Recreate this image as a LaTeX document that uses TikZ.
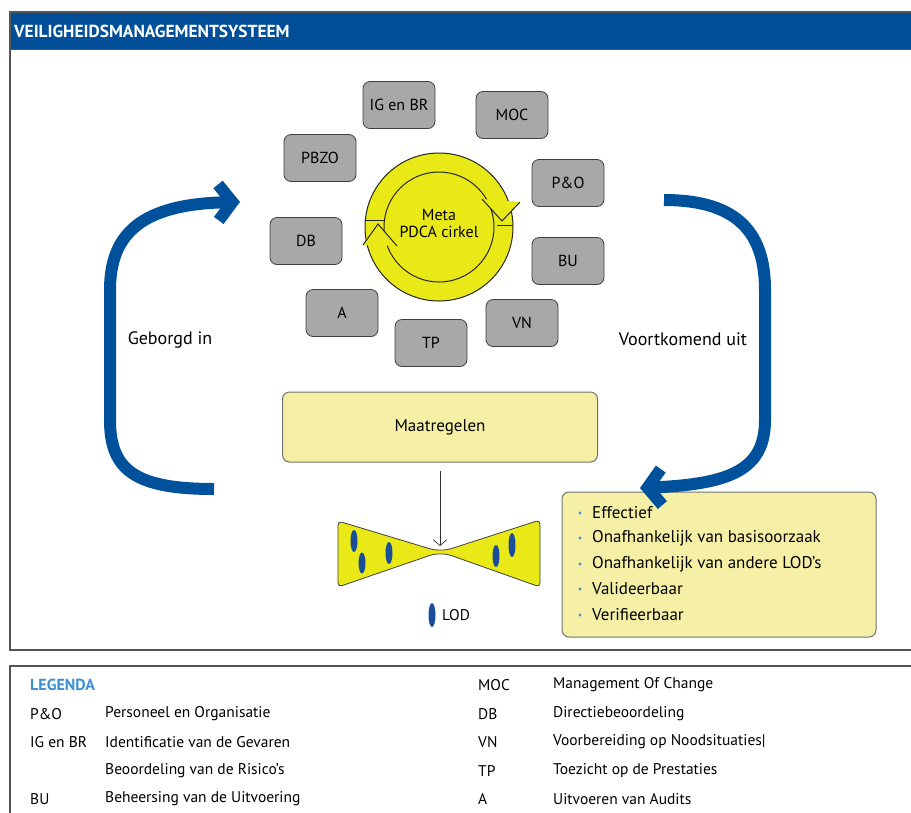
\documentclass[tikz,border=0pt]{standalone}
\usepackage{fontspec}
\setmainfont{PT Sans}
\usetikzlibrary{arrows.meta}
\definecolor{hdrblue}{HTML}{004F98}
\definecolor{arrblue}{HTML}{00519B}
\definecolor{boxgray}{HTML}{A8A8A8}
\definecolor{pdcay}{HTML}{E9E918}
\definecolor{paley}{HTML}{F5F0A5}
\definecolor{legblue}{HTML}{3F8FD2}
\definecolor{lodblue}{HTML}{1A4E9A}
\definecolor{frame}{HTML}{555555}
\tikzset{
  gbox/.style={draw=black!75, fill=boxgray, rounded corners=7pt, minimum width=72pt, minimum height=47pt, line width=0.8pt, font=\fontsize{16}{18}\selectfont, text=black},
  ybox/.style={draw=black!55, fill=paley, rounded corners=7pt, line width=1pt},
  bigarrow/.style={draw=arrblue, line width=12pt, -{Straight Barb[length=14pt, width=36pt]}},
  lbl/.style={font=\fontsize{18}{20}\selectfont, text=black},
  crit/.style={anchor=west, font=\fontsize{17}{19}\selectfont, text=black, inner sep=0pt},
  leg/.style={anchor=west, font=\fontsize{15.5}{17}\selectfont, text=black, inner sep=0pt},
  ring/.style={black!85, line width=1pt},
  lod/.style={fill=lodblue},
}
\begin{document}
\begin{tikzpicture}[x=1pt, y=-1pt]
\useasboundingbox (0,0) rectangle (911,812);
% frames
\fill[white] (0,0) rectangle (911,812);
\fill[hdrblue] (10,12) rectangle (915,49);
\draw[frame, line width=1.2pt] (915,12) -- (10,12) -- (10,650) -- (915,650);
\draw[frame, line width=1pt] (10,49) -- (915,49);
\node[anchor=west, text=white, font=\bfseries\fontsize{17.4}{19}\selectfont, inner sep=0pt] (title) at (14,31) {VEILIGHEIDSMANAGEMENTSYSTEEM};
\draw[frame, line width=1.2pt] (915,666) -- (10,666) -- (10,815);

% PDCA circle
\node[circle, draw=black!85, fill=pdcay, line width=1pt, minimum size=148pt, inner sep=0pt] (pdca) at (439,227) {};
\draw[ring] (pdca.center) circle (55);
\fill[pdcay] (482,199) -- (520,202) -- (502,221) -- cycle;
\draw[ring] (482,199) -- (502,221) -- (520,202);
\draw[ring] (497,225) -- (513,225);
\fill[pdcay] (363,245) -- (378,224) -- (397,246) -- cycle;
\draw[ring] (363,245) -- (378,224) -- (397,246);
\draw[ring] (366,220) -- (384,220);
\node[font=\fontsize{16}{18}\selectfont, align=center, text=black] (pdcatxt) at (439,223) {Meta\\[-1pt]PDCA cirkel};

% gray boxes
\node[gbox] (igbr) at (399,105) {IG en BR};
\node[gbox] (moc)  at (512,115) {MOC};
\node[gbox] (pbzo) at (320,158) {PBZO};
\node[gbox] (po)   at (568,183) {P\&O};
\node[gbox] (db)   at (306,241) {DB};
\node[gbox] (bu)   at (568,261) {BU};
\node[gbox] (a)    at (342,313) {A};
\node[gbox] (tp)   at (431,343) {TP};
\node[gbox] (vn)   at (522,323) {VN};

% Maatregelen
\node[ybox, minimum width=315pt, minimum height=70pt, font=\fontsize{17}{19}\selectfont, text=black] (mt) at (440,427) {Maatregelen};

% bowtie
\fill[pdcay, draw=black!75, line width=0.8pt, rounded corners=4pt]
  (338,521) -- (434,550) -- (447,550) -- (540,520) -- (540,587) -- (447,554) -- (434,554) -- (338,587) -- cycle;
\coordinate (bt) at (440,546);
\draw[black!80, line width=0.7pt, -{Straight Barb[length=6pt, width=14pt]}] (mt.south) ++(0,8) -- (bt);
\fill[lod] (354,541) ellipse (3.5 and 11);
\fill[lod] (362,563) ellipse (3.5 and 10.5);
\fill[lod] (389,553) ellipse (3.5 and 11);
\fill[lod] (496,556) ellipse (3.5 and 11);
\fill[lod] (512,545) ellipse (3.5 and 12);
\fill[lod] (432,615) ellipse (3.5 and 12);
\node[leg] (lodtxt) at (442,615) {LOD};

% criteria box
\node[ybox, minimum width=314pt, minimum height=145pt] (crit) at (719,564.5) {};
\foreach \yy/\t in {513/Effectief, 538/Onafhankelijk van basisoorzaak, 564/Onafhankelijk van andere LOD’s, 589/Valideerbaar, 615/Verifieerbaar}{
  \fill[legblue] (580,\yy) circle (1.6);
  \node[crit] at (592,\yy) {\t};
}

% big arrows
\coordinate (lstart) at (214,489);
\coordinate (lend) at (240,202);
\draw[bigarrow] (lstart) .. controls (135,489) and (110,470) .. (110,420) -- (110,290) .. controls (110,235) and (140,204) .. (lend);
\coordinate (rstart) at (664,200);
\coordinate (rend) at (640,488);
\draw[bigarrow] (rstart) .. controls (740,200) and (765,235) .. (765,290) -- (765,420) .. controls (765,470) and (730,484) .. (rend);
\node[lbl] (geb) at (170,340) {Geborgd in};
\node[lbl] (voort) at (683,339) {Voortkomend uit};

% legend
\node[leg, text=legblue, font=\bfseries\fontsize{16}{18}\selectfont] (legtitle) at (30,685) {LEGENDA};
\node[leg] at (30,714) {P\&O};
\node[leg] at (105,714) {Personeel en Organisatie};
\node[leg] at (30,742) {IG en BR};
\node[leg] at (105,742) {Identificatie van de Gevaren};
\node[leg] at (105,771) {Beoordeling van de Risico’s};
\node[leg] at (30,799) {BU};
\node[leg] at (105,799) {Beheersing van de Uitvoering};
\node[leg] at (478,685) {MOC};
\node[leg] at (553,685) {Management Of Change};
\node[leg] at (478,714) {DB};
\node[leg] at (553,714) {Directiebeoordeling};
\node[leg] at (478,742) {VN};
\node[leg] at (553,742) {Voorbereiding op Noodsituaties|};
\node[leg] at (478,771) {TP};
\node[leg] at (553,771) {Toezicht op de Prestaties};
\node[leg] at (478,799) {A};
\node[leg] at (553,799) {Uitvoeren van Audits};
\end{tikzpicture}
\end{document}
